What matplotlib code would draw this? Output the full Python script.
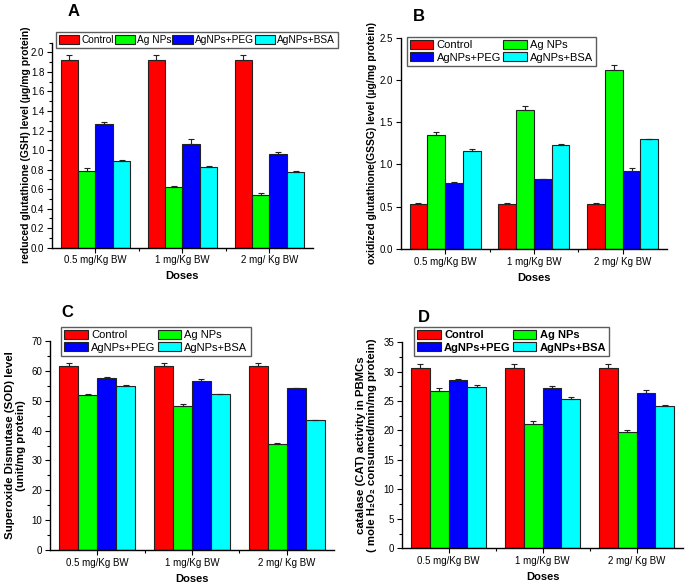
import numpy as np
import matplotlib
matplotlib.use('Agg')
import matplotlib.pyplot as plt
from matplotlib.ticker import MultipleLocator, FixedLocator, FormatStrFormatter

plt.rcParams['font.family'] = ['Liberation Sans', 'DejaVu Sans']

doses = ['0.5 mg/Kg BW', '1 mg/Kg BW', '2 mg/ Kg BW']
groups = ['Control', 'Ag NPs', 'AgNPs+PEG', 'AgNPs+BSA']
colors = ['#ff0000', '#00ff00', '#0000ff', '#00ffff']

# A - GSH
gsh = [[1.92, 1.92, 1.92],
       [0.785, 0.62, 0.535],
       [1.27, 1.06, 0.96],
       [0.89, 0.83, 0.78]]
gsh_err = [[0.05, 0.05, 0.05],
           [0.03, 0.015, 0.02],
           [0.02, 0.05, 0.025],
           [0.01, 0.005, 0.01]]

# B - GSSG
gssg = [[0.533, 0.533, 0.533],
        [1.35, 1.65, 2.115],
        [0.777, 0.825, 0.927],
        [1.163, 1.231, 1.298]]
gssg_err = [[0.01, 0.01, 0.01],
            [0.03, 0.045, 0.06],
            [0.02, 0.005, 0.028],
            [0.02, 0.015, 0.007]]

# C - SOD
sod = [[61.6, 61.6, 61.6],
       [51.9, 48.3, 35.6],
       [57.5, 56.6, 54.3],
       [54.8, 52.1, 43.4]]
sod_err = [[0.9, 0.9, 0.9],
           [0.4, 0.5, 0.3],
           [0.3, 0.6, 0.1],
           [0.4, 0.2, 0.3]]

# D - CAT
cat = [[30.6, 30.6, 30.6],
       [26.7, 21.05, 19.8],
       [28.6, 27.2, 26.3],
       [27.35, 25.4, 24.2]]
cat_err = [[0.7, 0.7, 0.7],
           [0.5, 0.5, 0.2],
           [0.2, 0.4, 0.5],
           [0.3, 0.2, 0.2]]

fig = plt.figure(figsize=(6.85, 5.86), dpi=100)


def panel(rect, vals, errs, ylim, major, minor, ylabel, ylx, lab_fs):
    ax = fig.add_axes(rect)
    x = np.arange(1, len(doses) + 1)
    w = 0.2
    handles = []
    for i in range(len(groups)):
        pos = x + (i - 1.5) * w
        b = ax.bar(pos, vals[i], w, color=colors[i], edgecolor='#222222',
                   linewidth=0.8, label=groups[i], zorder=2)
        ax.errorbar(pos, vals[i], yerr=[np.zeros(3), errs[i]], fmt='none',
                    ecolor='#222222', elinewidth=0.8, capsize=2, capthick=0.8,
                    zorder=3)
        handles.append(b)
    ax.set_xlim(0.5, 3.5)
    ax.set_ylim(*ylim)
    for s in ['top', 'right']:
        ax.spines[s].set_visible(False)
    for s in ['left', 'bottom']:
        ax.spines[s].set_linewidth(1.0)
    ax.set_xticks(x)
    ax.set_xticklabels(doses, fontsize=7)
    ax.xaxis.set_minor_locator(FixedLocator([1.5, 2.5]))
    ax.yaxis.set_major_locator(MultipleLocator(major))
    if minor:
        ax.yaxis.set_minor_locator(MultipleLocator(minor))
    ax.tick_params(axis='both', which='major', direction='out', length=3.5,
                   width=0.8, labelsize=7, pad=2)
    ax.tick_params(axis='both', which='minor', direction='out', length=2,
                   width=0.8)
    ax.set_xlabel('Doses', fontsize=8, fontweight='bold')
    ax.xaxis.set_label_coords(0.5, -0.115)
    ax.set_ylabel(ylabel, fontsize=lab_fs, fontweight='bold',
                  multialignment='center', linespacing=1.05)
    ax.yaxis.set_label_coords(ylx, 0.5)
    return ax, handles


def legend2(ax, h, anchor, bold=False):
    order = [0, 2, 1, 3]
    prop = {'size': 8, 'weight': 'bold' if bold else 'normal'}
    ax.legend([h[i] for i in order], [groups[i] for i in order], loc='upper left',
              bbox_to_anchor=anchor, bbox_transform=fig.transFigure,
              ncol=2, prop=prop, fancybox=False, edgecolor='#333333',
              borderaxespad=0, handlelength=2.1, handleheight=0.9,
              handletextpad=0.3, columnspacing=0.2, borderpad=0.3,
              labelspacing=0.15)


axA, hA = panel([0.0759, 0.5773, 0.381, 0.350], gsh, gsh_err, (0, 2.1), 0.2, 0.1,
                'reduced glutathione (GSH) level (\u00b5g/mg protein)', -0.08, 7.5)
axA.yaxis.set_major_formatter(FormatStrFormatter('%.1f'))
axA.legend(hA, groups, loc='upper left', bbox_to_anchor=(0.0813, 0.9454),
           bbox_transform=fig.transFigure, ncol=4, fontsize=7.3,
           fancybox=False, edgecolor='#333333', borderaxespad=0,
           handlelength=2.0, handleheight=0.9, handletextpad=0.2,
           columnspacing=0.1, borderpad=0.3)

axB, hB = panel([0.585, 0.5751, 0.3888, 0.3606], gssg, gssg_err, (0, 2.5), 0.5, None,
                'oxidized glutathione(GSSG) level (\u00b5g/mg protein)', -0.089, 7.5)
axB.yaxis.set_major_formatter(FormatStrFormatter('%.1f'))
legend2(axB, hB, (0.5937, 0.9374))

axC, hC = panel([0.073, 0.0614, 0.4146, 0.3567], sod, sod_err, (0, 70), 10, 5,
                'Superoxide Dismutase (SOD) level\n(unit/mg protein)', -0.085, 8.2)
legend2(axC, hC, (0.089, 0.4425))

axD, hD = panel([0.5864, 0.0643, 0.4114, 0.352], cat, cat_err, (0, 35), 5, 2.5,
                'catalase (CAT) activity in PBMCs\n( mole H\u2082O\u2082 consumed/min/mg protein)',
                -0.088, 8.2)
legend2(axD, hD, (0.6044, 0.4425), bold=True)

for lab, xx, yy in [('A', 0.108, 0.98), ('B', 0.612, 0.971),
                    ('C', 0.098, 0.466), ('D', 0.619, 0.459)]:
    fig.text(xx, yy, lab, fontsize=12, fontweight='bold', ha='center', va='center')

fig.savefig('out.png', dpi=100)
